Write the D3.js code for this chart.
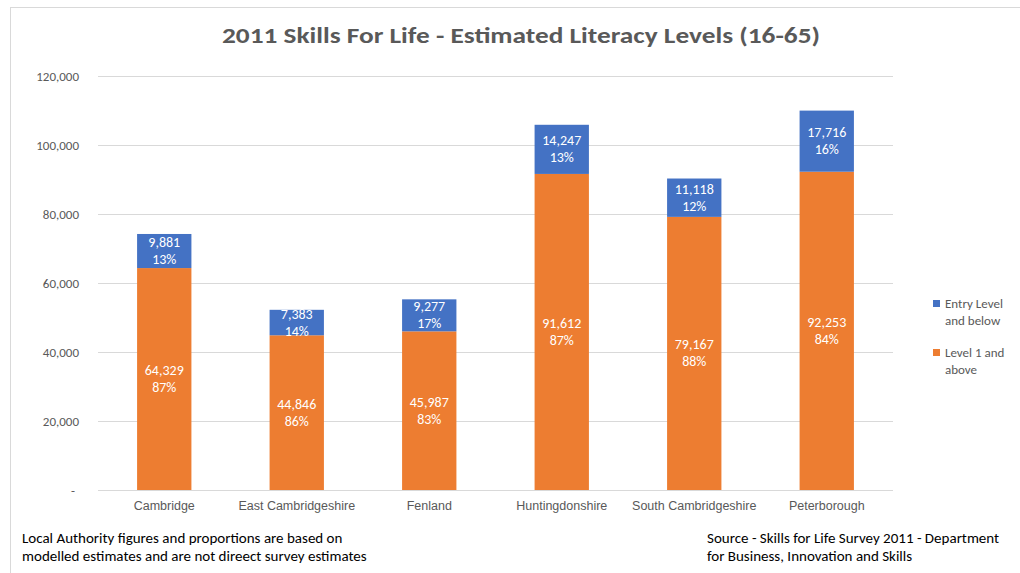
<!DOCTYPE html>
<html>
<head>
<meta charset="utf-8">
<script src="https://cdn.jsdelivr.net/npm/d3@7"></script>
<style>
  body { margin: 0; background: #fff; }
  svg { font-family: Carlito, "Liberation Sans Narrow", "Open Sans", sans-serif; }
</style>
</head>
<body>
<div id="chart"></div>
<script>
// Chart data
const areas = ["Cambridge", "East Cambridgeshire", "Fenland", "Huntingdonshire", "South Cambridgeshire", "Peterborough"];
const level1Above = [64329, 44846, 45987, 91612, 79167, 92253];
const entryBelow = [9881, 7383, 9277, 14247, 11118, 17716];
const level1Pct = [87, 86, 83, 87, 88, 84];
const entryPct = [13, 14, 17, 13, 12, 16];
const yTicks = [0, 20000, 40000, 60000, 80000, 100000, 120000];

const width = 1020, height = 573;
const margin = { top: 76, right: 127, bottom: 83, left: 98 };
const grey = "#595959";

const svg = d3.select("#chart").append("svg")
  .attr("width", width)
  .attr("height", height);

// outer chart border
svg.append("rect")
  .attr("x", 10.5).attr("y", 7.5)
  .attr("width", 1030).attr("height", 580)
  .attr("fill", "none")
  .attr("stroke", "#d9d9d9");

const x = d3.scaleBand()
  .domain(areas)
  .range([margin.left, width - margin.right])
  .paddingInner(0.59)
  .paddingOuter(0.295);

const y = d3.scaleLinear()
  .domain([0, 120000])
  .range([height - margin.bottom, margin.top]);

// ── Gridlines ──
svg.append("g")
  .selectAll("line")
  .data(yTicks)
  .join("line")
  .attr("x1", margin.left)
  .attr("x2", width - margin.right)
  .attr("y1", (d) => Math.round(y(d)) + 0.5)
  .attr("y2", (d) => Math.round(y(d)) + 0.5)
  .attr("stroke", "#d9d9d9")
  .attr("stroke-width", 1);

// ── Y axis labels ──
const yAxis = svg.append("g")
  .attr("transform", `translate(${margin.left - 16},0)`)
  .call(d3.axisLeft(y).tickValues(yTicks).tickSize(0)
    .tickFormat((d) => d === 0 ? "-" : d3.format(",")(d)));
yAxis.select(".domain").remove();
yAxis.selectAll("text")
  .attr("fill", grey)
  .attr("font-size", "13px")
  .attr("font-family", "Carlito, 'Open Sans', sans-serif");
yAxis.selectAll(".tick").filter((d) => d === 0).select("text")
  .attr("dx", -4);

// ── X axis labels ──
const xAxis = svg.append("g")
  .attr("transform", `translate(0,${height - margin.bottom + 8})`)
  .call(d3.axisBottom(x).tickSize(0));
xAxis.select(".domain").remove();
xAxis.selectAll("text")
  .attr("fill", grey)
  .attr("font-size", "12.5px");

// ── Stacked bars ──
const rows = areas.map((a, i) => ({
  area: a,
  low: level1Above[i], high: entryBelow[i],
  lowPct: level1Pct[i], highPct: entryPct[i]
}));

const bars = svg.append("g");
bars.selectAll(".low")
  .data(rows)
  .join("rect")
  .attr("x", (d) => x(d.area))
  .attr("width", x.bandwidth())
  .attr("y", (d) => y(d.low))
  .attr("height", (d) => y(0) - y(d.low))
  .attr("fill", "#ED7D31");

bars.selectAll(".high")
  .data(rows)
  .join("rect")
  .attr("x", (d) => x(d.area))
  .attr("width", x.bandwidth())
  .attr("y", (d) => y(d.low + d.high))
  .attr("height", (d) => y(d.low) - y(d.low + d.high))
  .attr("fill", "#4472C4");

// ── Data labels ──
function addLabel(cx, cy, value, pct) {
  const t = svg.append("text")
    .attr("text-anchor", "middle")
    .attr("fill", "#fff")
    .attr("font-size", "14px");
  t.append("tspan").attr("x", cx).attr("y", cy - 4).text(d3.format(",")(value));
  t.append("tspan").attr("x", cx).attr("y", cy + 13).text(pct + "%");
}
rows.forEach((d) => {
  const cx = x(d.area) + x.bandwidth() / 2;
  addLabel(cx, (y(0) + y(d.low)) / 2, d.low, d.lowPct);
  addLabel(cx, (y(d.low) + y(d.low + d.high)) / 2, d.high, d.highPct);
});

// ── Title ──
svg.append("text")
  .attr("x", 521)
  .attr("y", 43)
  .attr("text-anchor", "middle")
  .attr("fill", grey)
  .attr("font-size", "23px")
  .attr("font-weight", "bold")
  .attr("textLength", 598)
  .attr("lengthAdjust", "spacingAndGlyphs")
  .text("2011 Skills For Life - Estimated Literacy Levels (16-65)");

// ── Legend ──
const legend = svg.append("g").attr("transform", "translate(933,300)");
[
  { lines: ["Entry Level", "and below"], color: "#4472C4" },
  { lines: ["Level 1 and", "above"], color: "#ED7D31" }
].forEach((item, i) => {
  const g = legend.append("g").attr("transform", `translate(0,${i * 49})`);
  g.append("rect").attr("x", 0).attr("y", 0).attr("width", 7).attr("height", 7).attr("fill", item.color);
  item.lines.forEach((ln, j) => {
    g.append("text")
      .attr("x", 12)
      .attr("y", 8 + j * 17)
      .attr("fill", grey)
      .attr("font-size", "13px")
      .text(ln);
  });
});

// ── Footnotes ──
const noteLeft = ["Local Authority figures and proportions are based on", "modelled estimates and are not direect survey estimates"];
const noteRight = ["Source - Skills for Life Survey 2011 - Department", "for Business, Innovation and Skills"];
noteLeft.forEach((ln, i) => {
  svg.append("text").attr("x", 22).attr("y", 543 + i * 18)
    .attr("fill", "#000").attr("font-size", "15px").text(ln);
});
noteRight.forEach((ln, i) => {
  svg.append("text").attr("x", 707).attr("y", 543 + i * 18)
    .attr("fill", "#000").attr("font-size", "15px").text(ln);
});
</script>
</body>
</html>
